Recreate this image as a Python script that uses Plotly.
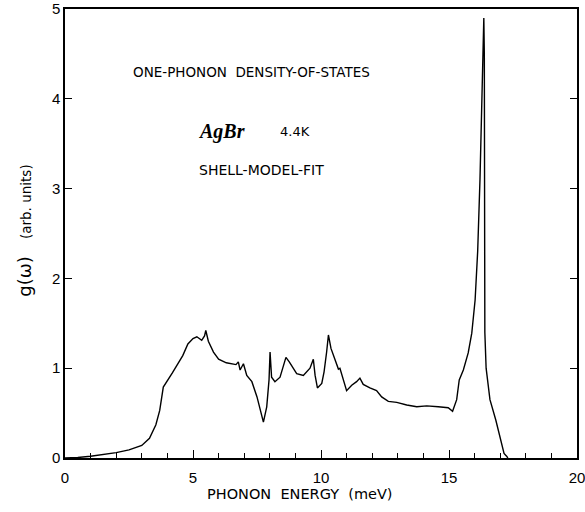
import plotly.graph_objects as go

energy = [0, 0.5, 1.0, 1.5, 2.0, 2.5, 3.0, 3.3, 3.55, 3.7, 3.84, 4.2, 4.6, 4.8, 5.0, 5.15,
          5.34, 5.45, 5.5, 5.6, 5.8, 6.0, 6.3, 6.68, 6.77, 6.84, 6.97, 7.1, 7.3, 7.5, 7.75,
          7.88, 7.97, 8.01, 8.07, 8.2, 8.4, 8.63, 8.76, 9.05, 9.31, 9.57, 9.7, 9.77, 9.86,
          10.03, 10.12, 10.22, 10.29, 10.39, 10.55, 10.68, 10.74, 11.0, 11.2, 11.39, 11.52,
          11.65, 11.91, 12.17, 12.37, 12.63, 12.96, 13.35, 13.74, 14.13, 14.58, 14.97, 15.14,
          15.3, 15.4, 15.56, 15.75, 15.89, 16.02, 16.12, 16.21, 16.3, 16.36, 16.38, 16.38,
          16.38, 16.4, 16.45, 16.6, 16.83, 17.0, 17.1, 17.15, 17.25, 17.3]
g_omega = [0, 0.005, 0.02, 0.04, 0.06, 0.09, 0.14, 0.22, 0.37, 0.53, 0.79, 0.95, 1.14, 1.27, 1.33, 1.35,
           1.31, 1.36, 1.42, 1.30, 1.18, 1.10, 1.06, 1.04, 1.07, 0.98, 1.05, 0.92, 0.85, 0.68, 0.40,
           0.57, 0.87, 1.18, 0.90, 0.85, 0.90, 1.12, 1.07, 0.94, 0.92, 1.00, 1.10, 0.92, 0.78,
           0.83, 0.96, 1.18, 1.37, 1.22, 1.09, 0.99, 1.00, 0.75, 0.81, 0.85, 0.89,
           0.82, 0.78, 0.75, 0.68, 0.63, 0.62, 0.59, 0.57, 0.58, 0.57, 0.56, 0.52,
           0.65, 0.87, 0.98, 1.17, 1.39, 1.76, 2.3, 3.1, 4.3, 4.9, 4.5, 3.0,
           2.0, 1.4, 1.0, 0.65, 0.42, 0.24, 0.13, 0.05, 0.02, 0.0]

x_ticks = [0, 5, 10, 15, 20]
y_ticks = [0, 1, 2, 3, 4, 5]

S = "\u00a0"

fig = go.Figure()
fig.add_trace(go.Scatter(x=energy, y=g_omega, mode="lines",
                         line=dict(color="black", width=1.4), showlegend=False))

sans = "DejaVu Sans"
tickfont = dict(family="Liberation Sans", size=15)
fig.update_layout(
    width=585, height=512,
    margin=dict(l=65, r=8, t=9, b=54),
    paper_bgcolor="white", plot_bgcolor="white",
    font=dict(family=sans, size=14, color="black"),
    xaxis2=dict(overlaying="x", side="top", anchor="y", range=[0, 20], dtick=1, tick0=0,
                ticks="inside", ticklen=5, tickwidth=1, tickcolor="black",
                showticklabels=False, showgrid=False, zeroline=False, showline=False,
                automargin=False),
)
fig.layout.xaxis.update(range=[0, 20], tickvals=x_ticks, ticktext=[str(v) for v in x_ticks],
                        ticks="inside", ticklen=8, tickwidth=1.2, tickcolor="black",
                        minor=dict(dtick=1, ticks="inside", ticklen=5, tickwidth=1, tickcolor="black"),
                        showgrid=False, zeroline=False, showline=True, linecolor="black",
                        linewidth=1.5, mirror=True, automargin=False,
                        ticklabeloverflow="allow", ticklabelstandoff=5, tickfont=tickfont)
fig.layout.yaxis.update(range=[0, 5], tickvals=y_ticks, ticktext=[str(v) for v in y_ticks],
                        ticks="inside", ticklen=7, tickwidth=1.2, tickcolor="black",
                        showgrid=False, zeroline=False, showline=True, linecolor="black",
                        linewidth=1.5, mirror="allticks", automargin=False,
                        ticklabeloverflow="allow", tickfont=tickfont)

fig.add_annotation(text="ONE-PHONON" + S * 2 + "DENSITY-OF-STATES", x=7.3, y=4.30, xref="x", yref="y",
                   showarrow=False, font=dict(family=sans, size=13.5))
fig.add_annotation(text="<b><i>AgBr</i></b>", x=6.1, y=3.64, xref="x", yref="y",
                   showarrow=False, font=dict(family="Liberation Serif", size=20))
fig.add_annotation(text="4.4K", x=9.0, y=3.64, xref="x", yref="y",
                   showarrow=False, font=dict(family=sans, size=13))
fig.add_annotation(text="SHELL-MODEL-FIT", x=7.66, y=3.21, xref="x", yref="y",
                   showarrow=False, font=dict(family=sans, size=14))
fig.add_annotation(text="PHONON" + S * 2 + "ENERGY" + S * 2 + "(meV)", x=9.18, y=0, xref="x", yref="paper",
                   yanchor="middle", yshift=-36, showarrow=False,
                   font=dict(family=sans, size=14.5))
fig.add_annotation(text='<span style="font-size:18px">g(ω)</span>' + S * 4 + "(arb." + S + "units)",
                   x=0, y=0.505, xref="paper", yref="paper", xshift=-53,
                   textangle=-90, showarrow=False, font=dict(family=sans, size=13.5))

fig.write_html("out.html")
